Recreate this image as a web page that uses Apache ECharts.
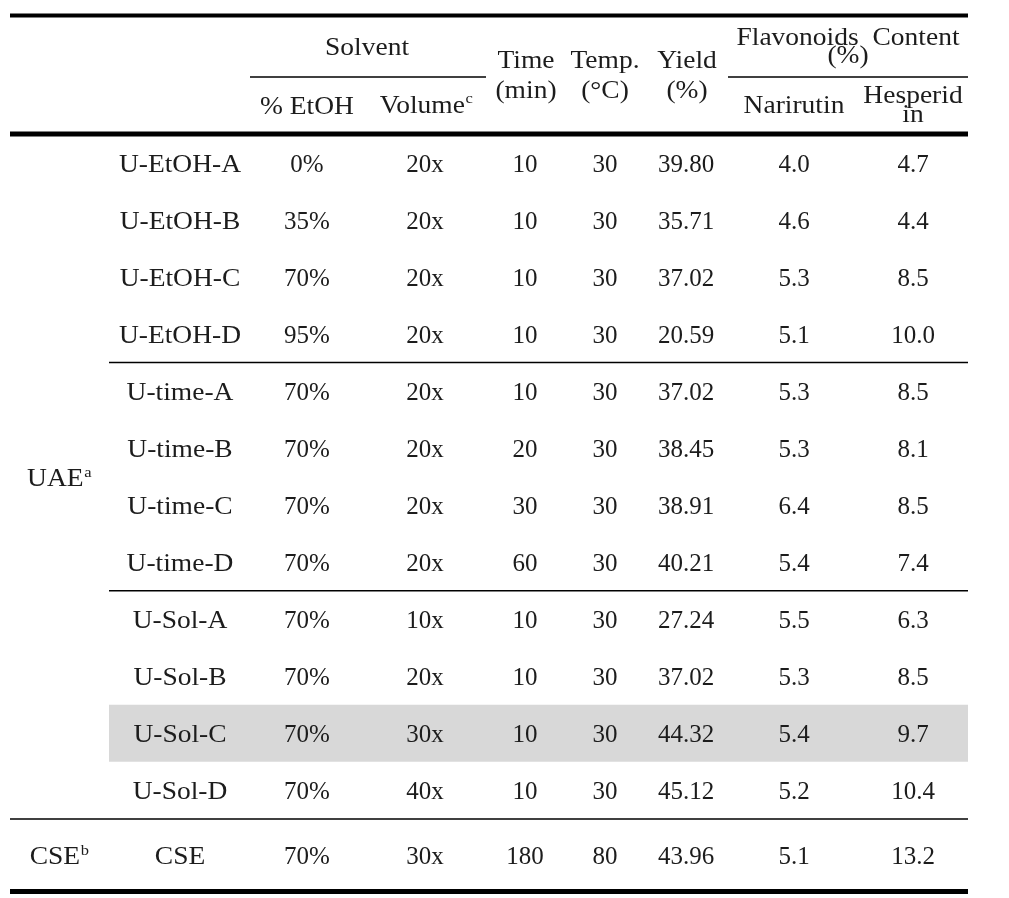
<!DOCTYPE html>
<html><head><meta charset="utf-8">
<script src="https://cdn.jsdelivr.net/npm/echarts@6/dist/echarts.min.js"></script>
<style>html,body{margin:0;padding:0;background:#fff}#c{width:1009px;height:898px}</style>
</head><body><div id="c"></div>
<script>
// ---- data ----
const samples = ['U-EtOH-A','U-EtOH-B','U-EtOH-C','U-EtOH-D','U-time-A','U-time-B','U-time-C','U-time-D','U-Sol-A','U-Sol-B','U-Sol-C','U-Sol-D','CSE'];
const etoh = ['0%','35%','70%','95%','70%','70%','70%','70%','70%','70%','70%','70%','70%'];
const volume = ['20x','20x','20x','20x','20x','20x','20x','20x','10x','20x','30x','40x','30x'];
const timeMin = ['10','10','10','10','10','20','30','60','10','10','10','10','180'];
const tempC = ['30','30','30','30','30','30','30','30','30','30','30','30','80'];
const yieldPct = ['39.80','35.71','37.02','20.59','37.02','38.45','38.91','40.21','27.24','37.02','44.32','45.12','43.96'];
const narirutin = ['4.0','4.6','5.3','5.1','5.3','5.3','6.4','5.4','5.5','5.3','5.4','5.2','5.1'];
const hesperidin = ['4.7','4.4','8.5','10.0','8.5','8.1','8.5','7.4','6.3','8.5','9.7','10.4','13.2'];
const methods = [{name:'UAE', sup:'a', first:0, last:11}, {name:'CSE', sup:'b', first:12, last:12}];
const highlightRows = [10];
const groupBreaks = [4, 8, 12]; // rule drawn above these rows

// ---- layout ----
const W = 1009, H = 898;
const FONT = '"Liberation Serif", "DejaVu Serif", serif';
const FS = 25, SUP_FS = 15, SUP_DY = -6.5;
const WORD_SX = 1.1;
const COLX = [59, 180, 307, 425, 525, 605, 686, 794, 913];
const L = 10, R = 968, SUBL = 109;
const ROW_TOP = 134.3, ROWH = 57.05, LAST_BOTTOM = 891.5;
const TXT_DY = 2.5;
const INK = '#1c1c1c';

const mctx = document.createElement('canvas').getContext('2d');
function measure(t, fs){ mctx.font = fs + 'px ' + FONT; return mctx.measureText(t).width; }

function rowTop(i){ return ROW_TOP + i*ROWH; }
function rowBottom(i){ return i === samples.length-1 ? LAST_BOTTOM : ROW_TOP + (i+1)*ROWH; }
function rowMid(i){ return (rowTop(i)+rowBottom(i))/2 + TXT_DY; }

function txt(api, x, y, text, sx){
  const p = api.coord([x, y]);
  return {type:'text', x:p[0], y:p[1], scaleX:sx||1, style:{text:text, fill:INK, fontFamily:FONT, fontSize:FS, align:'center', verticalAlign:'middle'}};
}
function supTxt(api, x, y, main, sup, sx){
  const p = api.coord([x, y]);
  const wm = measure(main, FS), ws = measure(sup, SUP_FS), left = -(wm + ws)/2;
  return {type:'group', x:p[0], y:p[1], scaleX:sx||1, children:[
    {type:'text', x:left, y:0, style:{text:main, fill:INK, fontFamily:FONT, fontSize:FS, align:'left', verticalAlign:'middle'}},
    {type:'text', x:left + wm + 0.5, y:SUP_DY, style:{text:sup, fill:INK, fontFamily:FONT, fontSize:SUP_FS, align:'left', verticalAlign:'middle'}}
  ]};
}

const rules = [
  [L, R, 15.5, 4],
  [250, 486, 77, 1.5],
  [728, R, 77, 1.5],
  [L, R, 134, 5],
  [L, R, LAST_BOTTOM, 5]
];
groupBreaks.forEach(function(r){ rules.push([r === 12 ? L : SUBL, R, rowTop(r), 1.5]); });

const rowIdx = samples.map(function(_, i){ return [COLX[4], rowMid(i), i]; });

const option = {
  animation:false,
  grid:{left:0, right:0, top:0, bottom:0},
  xAxis:{type:'value', min:0, max:W, show:false},
  yAxis:{type:'value', min:0, max:H, inverse:true, show:false},
  series:[
    { type:'custom', silent:true, data:highlightRows.map(function(r){return [SUBL, rowTop(r)];}),
      renderItem:function(params, api){
        const r = highlightRows[params.dataIndex];
        const a = api.coord([SUBL, rowTop(r)]), b = api.coord([R, rowBottom(r)]);
        return {type:'rect', shape:{x:a[0], y:a[1], width:b[0]-a[0], height:b[1]-a[1]}, style:{fill:'#d8d8d8'}};
      }},
    { type:'custom', silent:true, data:rules.map(function(r){return [r[0], r[2]];}),
      renderItem:function(params, api){
        const r = rules[params.dataIndex];
        const a = api.coord([r[0], r[2]]), b = api.coord([r[1], r[2]]);
        return {type:'line', shape:{x1:a[0], y1:a[1], x2:b[0], y2:b[1]}, style:{stroke:'#000', lineWidth:r[3]}};
      }},
    { type:'custom', silent:true, data:rowIdx,
      renderItem:function(params, api){
        const i = params.dataIndex, y = rowMid(i);
        const cells = [samples[i], etoh[i], volume[i], timeMin[i], tempC[i], yieldPct[i], narirutin[i], hesperidin[i]];
        return {type:'group', children: cells.map(function(c, j){ return txt(api, COLX[j+1], y, c, j === 0 ? WORD_SX : 1); })};
      }},
    { type:'custom', silent:true, data:methods.map(function(m){return [COLX[0], 0];}),
      renderItem:function(params, api){
        const m = methods[params.dataIndex];
        const y = (rowMid(m.first) + rowMid(m.last))/2;
        return supTxt(api, COLX[0], y, m.name, m.sup, WORD_SX);
      }},
    { type:'custom', silent:true, data:[[0,0]],
      renderItem:function(params, api){
        const S = WORD_SX;
        const ch = [
          txt(api, 367, 48, 'Solvent', S),
          txt(api, 307, 107, '% EtOH', S),
          supTxt(api, 426, 106, 'Volume', 'c', S),
          txt(api, 526, 61, 'Time', S), txt(api, 526, 91, '(min)', S),
          txt(api, 605, 61, 'Temp.', S), txt(api, 605, 91, '(°C)', S),
          txt(api, 687, 61, 'Yield', S), txt(api, 687, 91, '(%)', S),
          txt(api, 848, 38, 'Flavonoids  Content', S), txt(api, 848, 56, '(%)', S),
          txt(api, 794, 106, 'Narirutin', S),
          txt(api, 913, 96, 'Hesperid', S), txt(api, 913, 115, 'in', S)
        ];
        return {type:'group', children:ch};
      }}
  ]
};
const chart = echarts.init(document.getElementById('c'), null, {renderer:'canvas'});
chart.setOption(option);
</script></body></html>
